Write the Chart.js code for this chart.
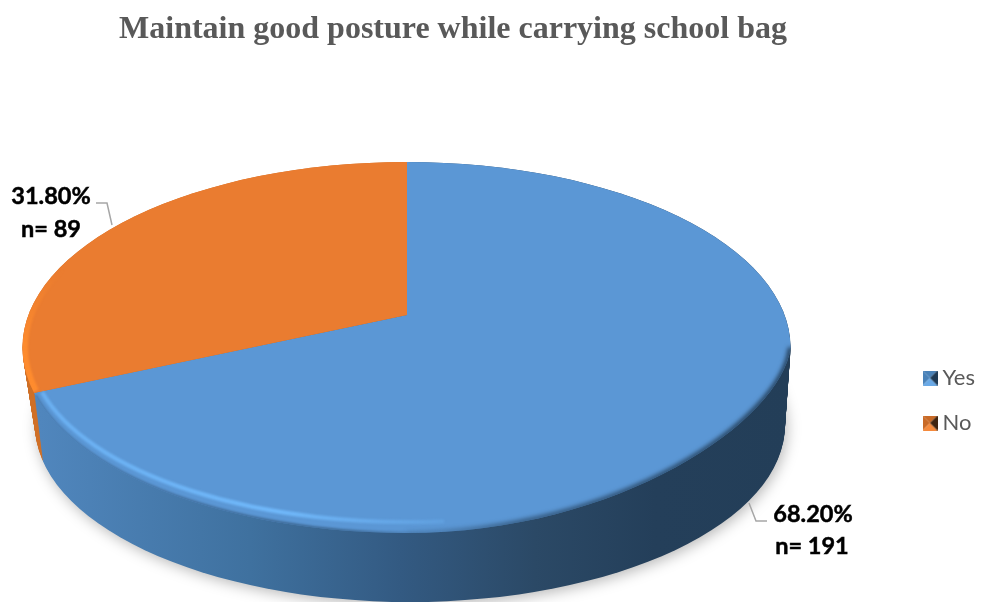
<!DOCTYPE html>
<html><head><meta charset="utf-8">
<style>html,body{margin:0;padding:0;background:#fff;overflow:hidden}#wrap{width:982px;height:602px;position:relative}</style>
<script src="https://cdn.jsdelivr.net/npm/chart.js@4/dist/chart.umd.min.js"></script>
</head><body><div id="wrap"><canvas id="c" width="982" height="602"></canvas></div>
<script>
const titleText = 'Maintain good posture while carrying school bag';
const categories = ['Yes', 'No'];
const counts = [191, 89];
const percentLabels = ['68.20%', '31.80%'];
const countLabels = ['n= 191', 'n= 89'];
const faceColors = ['#5b97d5', '#ea7c30'];

const APEX = {x: 407, y: 315}, FACE = {x: 406.5, y: 347.5, rx: 384, ry: 185.5};
const DEPTH = 68, SQUASH = 0.46, REACH = 540;

function marker(light, mid, dark) {
  const m = document.createElement('canvas'); m.width = 15; m.height = 15;
  const g = m.getContext('2d');
  const tri = (pts, col) => { g.fillStyle = col; g.beginPath(); pts.forEach((p, i) => i ? g.lineTo(p[0], p[1]) : g.moveTo(p[0], p[1])); g.closePath(); g.fill(); };
  tri([[0,0],[15,0],[7.5,7.5]], mid);
  tri([[0,0],[0,15],[7.5,7.5]], mid);
  tri([[0,15],[15,15],[7.5,7.5]], light);
  tri([[15,0],[15,15],[7.5,7.5]], dark);
  return m;
}
const markers = [marker('#6aa9e6', '#4a82b8', '#1f3a55'), marker('#f58a3c', '#c96a26', '#3f2410')];

function ellipsePath(ctx, e, a0 = 0, a1 = Math.PI * 2) { ctx.beginPath(); ctx.ellipse(e.x, e.y, e.rx, e.ry, 0, a0, a1); }

// outline of the top face: ellipse except the lower right, which is pulled in by perspective
function rightCurve(ctx) {
  ctx.bezierCurveTo(782, 420, 620, 533, FACE.x, 533);
}
function facePath(ctx) {
  ctx.beginPath();
  ctx.ellipse(FACE.x, FACE.y, FACE.rx, FACE.ry, 0, Math.PI / 2, Math.PI * 2);
  rightCurve(ctx);
  ctx.closePath();
}

function baseAt(t) {
  return {x: FACE.x + 3.5 * t, y: FACE.y + 77.5 * t, rx: FACE.rx - 9 * t, ry: FACE.ry - 8.5 * t};
}

function drawArcs(chart, dy, shiftX, fills) {
  const ctx = chart.ctx, arcs = chart.getDatasetMeta(0).data;
  const k = REACH / arcs[0].outerRadius, ox = arcs[0].x, oy = arcs[0].y;
  ctx.save();
  ctx.translate(APEX.x + shiftX, APEX.y + dy);
  ctx.scale(k, k * SQUASH);
  ctx.translate(-ox, -oy);
  const ux = s => ox + (s - APEX.x - shiftX) / k;
  arcs.forEach((arc, i) => {
    const base = arc.options;
    if (fills) {
      const g = ctx.createLinearGradient(ux(40), 0, ux(790), 0);
      fills[i].forEach(st => g.addColorStop(st[0], st[1]));
      const o = Object.create(base); o.backgroundColor = g; arc.options = o;
    }
    arc.draw(ctx);
    arc.options = base;
  });
  ctx.restore();
}

const wallStops = [
  [[0,'#5086bd'],[0.28,'#3f719f'],[0.48,'#335a82'],[0.66,'#2b4966'],[0.82,'#243f5a'],[1,'#233e58']],
  [[0,'#cf6f26'],[1,'#cf6f26']]
];

const pie3d = {
  id: 'pie3d',
  afterLayout(chart) {
    const t = chart.titleBlock, l = chart.legend;
    t.left = 0; t.right = 906; t.width = 906;
    const w = l.width, h = l.height;
    l.left = 905.5; l.right = 905.5 + w; l.top = 344; l.bottom = 344 + h;
  },
  beforeDatasetsDraw(chart) {
    const ctx = chart.ctx;
    ctx.save();
    // soft cast shadow
    ctx.filter = 'blur(7px)'; ctx.fillStyle = 'rgba(0,0,0,0.28)';
    const b = baseAt(1);
    ellipsePath(ctx, {x: b.x + 2, y: b.y + 3, rx: b.rx, ry: b.ry}); ctx.fill();
    ctx.filter = 'none';
    // side wall: the library's arcs stacked from the base up
    for (let dy = DEPTH; dy >= 0; dy--) {
      const t = dy / DEPTH;
      ctx.save();
      ellipsePath(ctx, baseAt(t)); ctx.clip();
      drawArcs(chart, dy, 7 * t, wallStops);
      ctx.restore();
    }
    // top face
    ctx.save();
    facePath(ctx); ctx.clip();
    drawArcs(chart, 0, 0, null);
    // dark soft rim, lower right
    let g = ctx.createLinearGradient(380, 0, 790, 0);
    g.addColorStop(0, 'rgba(40,70,100,0)'); g.addColorStop(0.35, 'rgba(40,70,100,0.75)'); g.addColorStop(1, 'rgba(35,62,88,1)');
    ctx.filter = 'blur(2px)'; ctx.strokeStyle = g; ctx.lineWidth = 5;
    ctx.beginPath(); ctx.moveTo(FACE.x + FACE.rx, FACE.y); rightCurve(ctx); ctx.stroke();
    // bright bevel, lower left
    g = ctx.createLinearGradient(40, 0, 520, 0);
    g.addColorStop(0, 'rgba(112,184,250,0.75)'); g.addColorStop(0.5, 'rgba(112,184,250,1)'); g.addColorStop(0.8, 'rgba(112,184,250,0.35)'); g.addColorStop(1, 'rgba(112,184,250,0)');
    ctx.strokeStyle = g; ctx.lineWidth = 4; ctx.filter = 'blur(1.2px)';
    ellipsePath(ctx, {x: FACE.x, y: FACE.y, rx: FACE.rx - 7, ry: FACE.ry - 11}, Math.PI / 2 - 0.1, Math.PI - 0.26); ctx.stroke();
    // blue wall blend below the bevel
    g = ctx.createLinearGradient(40, 0, 440, 0);
    g.addColorStop(0, 'rgba(72,120,170,0.9)'); g.addColorStop(0.75, 'rgba(56,96,136,0.9)'); g.addColorStop(1, 'rgba(52,90,130,0)');
    ctx.strokeStyle = g; ctx.lineWidth = 3; ctx.filter = 'blur(1px)';
    ellipsePath(ctx, FACE, Math.PI / 2 - 0.1, Math.PI - 0.26); ctx.stroke();
    // orange bevel, left
    g = ctx.createLinearGradient(0, 270, 0, 395);
    g.addColorStop(0, 'rgba(255,140,46,0)'); g.addColorStop(0.6, 'rgba(255,140,46,0.9)'); g.addColorStop(1, 'rgba(255,140,46,1)');
    ctx.strokeStyle = g; ctx.lineWidth = 7; ctx.filter = 'blur(1px)';
    ellipsePath(ctx, {x: FACE.x, y: FACE.y, rx: FACE.rx - 2, ry: FACE.ry - 2}, Math.PI - 0.24, Math.PI + 0.6); ctx.stroke();
    ctx.filter = 'none';
    ctx.restore();
    ctx.restore();
    return false;
  },
  afterDraw(chart) {
    const ctx = chart.ctx;
    ctx.save();
    ctx.strokeStyle = '#a6a6a6'; ctx.lineWidth = 1.5;
    ctx.beginPath(); ctx.moveTo(112, 225); ctx.lineTo(107, 203); ctx.lineTo(96, 203); ctx.stroke();
    ctx.beginPath(); ctx.moveTo(749, 503); ctx.lineTo(756, 521); ctx.lineTo(767, 521); ctx.stroke();
    ctx.fillStyle = '#000'; ctx.strokeStyle = '#000'; ctx.lineWidth = 0.5; ctx.font = 'bold 23.5px Lato'; ctx.textAlign = 'center'; ctx.textBaseline = 'middle';
    [[percentLabels[0], 813, 514], [countLabels[0], 812, 546], [percentLabels[1], 51, 196], [countLabels[1], 51, 229]].forEach(a => {
      ctx.fillText(a[0], a[1], a[2]); ctx.strokeText(a[0], a[1], a[2]);
    });
    ctx.restore();
  }
};

new Chart(document.getElementById('c'), {
  type: 'pie',
  data: { labels: categories, datasets: [{ data: counts, backgroundColor: faceColors, borderWidth: 0 }] },
  plugins: [pie3d],
  options: {
    responsive: false, animation: false, rotation: 0,
    plugins: {
      tooltip: { enabled: false },
      title: { display: true, text: titleText, color: '#595959', align: 'center',
        font: { family: 'Liberation Serif', size: 32, weight: 'bold' }, padding: { top: 11, bottom: 18 } },
      legend: { display: true, position: 'right', align: 'start',
        labels: { color: '#595959', font: { family: 'Lato', size: 22 }, usePointStyle: true, pointStyleWidth: 3, padding: 23,
          generateLabels: c => c.data.labels.map((t, i) => ({ text: t, pointStyle: markers[i], fillStyle: faceColors[i], lineWidth: 0, hidden: false, index: i, fontColor: '#595959' })) } }
    }
  }
});
</script></body></html>
